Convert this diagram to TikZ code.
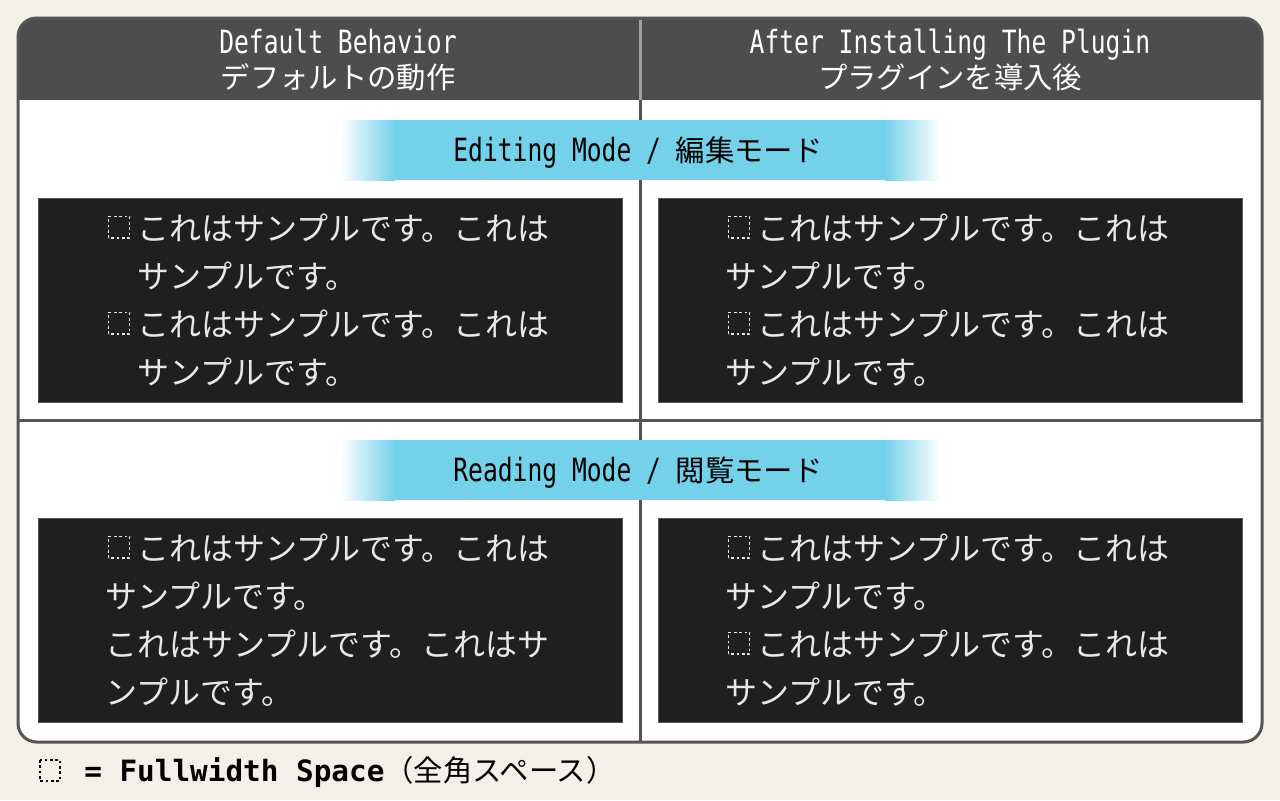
\documentclass[tikz,border=0pt]{standalone}
\usepackage{fontspec}
\newfontfamily\jpfont{Noto Sans CJK JP}
\newfontfamily\hdfont[FakeStretch=0.77]{DejaVu Sans Mono}
\newfontfamily\lgfont{DejaVu Sans Mono}
\definecolor{paper}{HTML}{F3EFE9}
\definecolor{framegray}{HTML}{555555}
\definecolor{headgray}{HTML}{4D4D4D}
\definecolor{headline}{HTML}{A0A0A0}
\definecolor{barcyan}{HTML}{74D1EA}
\definecolor{boxdark}{HTML}{1F1F1F}
\definecolor{bodytext}{HTML}{E8E8E8}
\newcommand{\fwsp}[1]{\makebox[24pt][l]{\hspace{2pt}\tikz[baseline=0pt]\draw[#1,line width=0.9pt,dash pattern=on 2pt off 2pt] (0pt,1.5pt) rectangle (16pt,17.5pt);}}

\begin{document}
\begin{tikzpicture}[x=0.75pt,y=-0.75pt,
    body/.style={anchor=base west,inner sep=0pt,text=bodytext,font=\jpfont\fontsize{24pt}{28pt}\selectfont},
    head/.style={anchor=base,inner sep=0pt,text=white},
    bar/.style={anchor=base,inner sep=0pt,text=black}]
  \fill[paper] (0,0) rectangle (1280,800);
  \fill[white,rounded corners=14] (18,18) rectangle (1262,742);
  \begin{scope}
    \clip[rounded corners=14] (18,18) rectangle (1262,742);
    \fill[headgray] (18,18) rectangle (1262,100);
  \end{scope}
  \draw[headline,line width=2.25pt] (640,20) -- (640,100);
  \draw[framegray,line width=2.25pt] (640,100) -- (640,742);
  \draw[framegray,line width=2.25pt] (18,420) -- (1262,420);
  \draw[framegray,line width=2.25pt,rounded corners=14] (18,18) rectangle (1262,742);

  \node[head,font=\hdfont\fontsize{24pt}{28pt}\selectfont] (hl1) at (338,53) {Default Behavior};
  \node[head,font=\jpfont\fontsize{22pt}{26pt}\selectfont] (hl2) at (338,88) {デフォルトの動作};
  \node[head,font=\hdfont\fontsize{24pt}{28pt}\selectfont] (hr1) at (950,53) {After Installing The Plugin};
  \node[head,font=\jpfont\fontsize{22pt}{26pt}\selectfont] (hr2) at (950,88) {プラグインを導入後};

  \foreach \y in {120,440} {
    \shade[left color=white,right color=barcyan] (340,\y) rectangle (395,\y+60);
    \fill[barcyan] (394,\y) rectangle (886,\y+60);
    \shade[left color=barcyan,right color=white] (885,\y) rectangle (940,\y+60);
    \fill[boxdark,draw=framegray,line width=0.5pt] (38,\y+78) rectangle (622,\y+282);
    \fill[boxdark,draw=framegray,line width=0.5pt] (658,\y+78) rectangle (1242,\y+282);
  }
  \node[bar] (edit) at (638,161) {{\hdfont\fontsize{24pt}{28pt}\selectfont Editing Mode / }{\jpfont\fontsize{22pt}{26pt}\selectfont 編集モード}};
  \node[bar] (read) at (638,481) {{\hdfont\fontsize{24pt}{28pt}\selectfont Reading Mode / }{\jpfont\fontsize{22pt}{26pt}\selectfont 閲覧モード}};

  \node[body] (el1) at (105,240) {\fwsp{bodytext}これはサンプルです。これは};
  \node[body] (el2) at (137,288) {サンプルです。};
  \node[body] (el3) at (105,336) {\fwsp{bodytext}これはサンプルです。これは};
  \node[body] (el4) at (137,384) {サンプルです。};
  \node[body] (er1) at (725,240) {\fwsp{bodytext}これはサンプルです。これは};
  \node[body] (er2) at (725,288) {サンプルです。};
  \node[body] (er3) at (725,336) {\fwsp{bodytext}これはサンプルです。これは};
  \node[body] (er4) at (725,384) {サンプルです。};

  \node[body] (rl1) at (105,560) {\fwsp{bodytext}これはサンプルです。これは};
  \node[body] (rl2) at (105,608) {サンプルです。};
  \node[body] (rl3) at (105,656) {これはサンプルです。これはサ};
  \node[body] (rl4) at (105,704) {ンプルです。};
  \node[body] (rr1) at (725,560) {\fwsp{bodytext}これはサンプルです。これは};
  \node[body] (rr2) at (725,608) {サンプルです。};
  \node[body] (rr3) at (725,656) {\fwsp{bodytext}これはサンプルです。これは};
  \node[body] (rr4) at (725,704) {サンプルです。};

  \draw[black,line width=0.8pt,dash pattern=on 2pt off 2pt] (40,760) rectangle (60,781);
  \node[anchor=base west,inner sep=0pt] (legend) at (84,781)
    {{\lgfont\bfseries\fontsize{22pt}{26pt}\selectfont = Fullwidth Space}{\jpfont\fontsize{22pt}{26pt}\selectfont （全角スペース）}};
\end{tikzpicture}
\end{document}
